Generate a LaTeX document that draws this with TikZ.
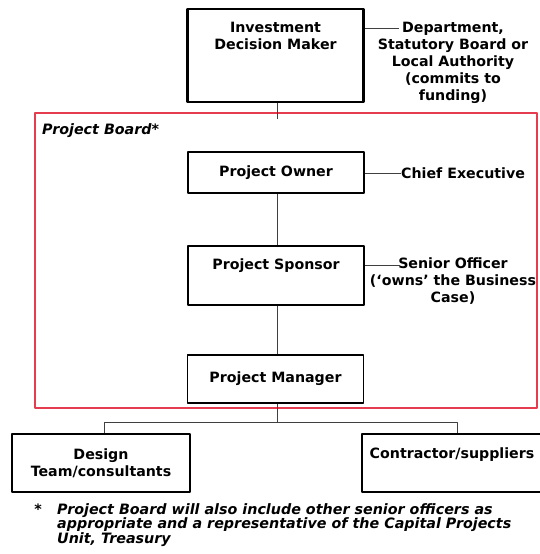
\documentclass[tikz,border=0pt]{standalone}
\usepackage{fontspec}
\setmainfont{DejaVu Sans}
\usetikzlibrary{positioning}
\definecolor{boardred}{RGB}{230,60,80}

\begin{document}
\begin{tikzpicture}[x=1pt, y=-1pt, line join=round,
  role/.style={draw, line width=1.8pt, minimum width=176pt, inner sep=0pt},
  txt/.style={font=\fontsize{14.2}{17}\selectfont\bfseries, align=center, inner sep=0pt},
  note/.style={font=\fontsize{14.3}{14.5}\selectfont\bfseries\itshape, align=left, inner sep=0pt},
  link/.style={draw=black!75, line width=0.9pt}]
  \useasboundingbox (0,0) rectangle (540,554);

  % Projektrahmen
  \node[draw=boardred, line width=1.2pt, minimum width=502pt, minimum height=295pt, inner sep=0pt] (board) at (286,260.5) {};
  \node[note, anchor=west] (boardlbl) at (42,131) {Project Board*};

  % Kästen
  \node[role, line width=2.6pt, minimum height=93pt] (idm) at (275.5,55.5) {};
  \node[txt] (idmtxt) at (275.5,36) {Investment\\Decision Maker};
  \node[role, minimum height=41pt, txt] (po) at (276,172.5) {Project Owner};
  \node[role, minimum height=59pt] (ps) at (276,275.5) {};
  \node[txt] (pstxt) at (276,266) {Project Sponsor};
  \node[role, minimum height=48pt, txt] (pm) at (275.5,379) {Project Manager};
  \node[role, minimum width=178pt, minimum height=58pt, txt] (design) at (101,463) {Design\\Team/consultants};
  \node[role, minimum width=180pt, minimum height=58pt] (contr) at (452,463) {};
  \node[txt] (contrtxt) at (452,455) {Contractor/suppliers};

  % Rollen rechts
  \node[txt] (dept) at (453,62.5) {Department,\\Statutory Board or\\Local Authority\\(commits to\\funding)};
  \node[txt, anchor=west] (ce) at (401,173) {Chief Executive};
  \node[txt] (so) at (453,281) {Senior Officer\\(‘owns’ the Business\\Case)};

  % Verbindungen
  \coordinate (deptin) at (399,28);
  \coordinate (soin) at (400,265);
  \coordinate (brdtop) at (277,119);
  \coordinate (split) at (277,422);
  \coordinate (lb) at (104,422);
  \coordinate (rb) at (457,422);
  \draw[link] (idm.east |- deptin) -- (deptin);
  \draw[link] (po.east |- ce.west) -- (ce.west);
  \draw[link] (ps.east |- soin) -- (soin);
  \draw[link] (idm.south -| brdtop) -- (brdtop);
  \draw[link] (po.south -| brdtop) -- (ps.north -| brdtop);
  \draw[link] (ps.south -| brdtop) -- (pm.north -| brdtop);
  \draw[link] (pm.south -| split) -- (split);
  \draw[link] (design.north -| lb) -- (lb) -- (rb) -- (contr.north -| rb);

  % Fussnote
  \node[note] (star) at (38,509) {*};
  \node[note, anchor=north west] (fn) at (57,503) {Project Board will also include other senior officers as\\appropriate and a representative of the Capital Projects\\Unit, Treasury};
\end{tikzpicture}
\end{document}
